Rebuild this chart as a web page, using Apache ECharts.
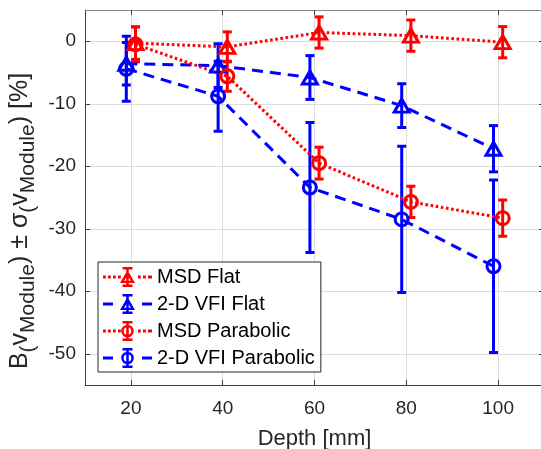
<!DOCTYPE html>
<html>
<head>
<meta charset="utf-8">
<script src="https://cdn.jsdelivr.net/npm/echarts@6/dist/echarts.min.js"></script>
<style>
html,body{margin:0;padding:0;background:#fff;}
#chart{width:541px;height:449px;}
</style>
</head>
<body>
<div id="chart"></div>
<script>
// ---- data ----
var xMSD = [21, 41, 61, 81, 101];
var xVFI = [19, 39, 59, 79, 99];
var msdFlat = [-0.3, -0.9, 1.4, 0.9, -0.15];
var msdFlatErr = [2.6, 2.4, 2.5, 2.5, 2.5];
var vfiFlat = [-3.6, -3.9, -5.8, -10.3, -17.2];
var vfiFlatErr = [3.4, 3.5, 3.5, 3.5, 3.7];
var msdPara = [-0.5, -5.6, -19.5, -25.7, -28.3];
var msdParaErr = [2.8, 2.4, 2.55, 2.5, 2.9];
var vfiPara = [-4.4, -8.8, -23.4, -28.5, -36.0];
var vfiParaErr = [5.2, 5.6, 10.4, 11.7, 13.8];
var xTicks = [20, 40, 60, 80, 100];
var yTicks = [-50, -40, -30, -20, -10, 0];
var seriesNames = ['MSD Flat', '2-D VFI Flat', 'MSD Parabolic', '2-D VFI Parabolic'];

var RED = '#ff0000', BLUE = '#0000ff';
var FONT = '"Liberation Sans", Arial, Helvetica, sans-serif';

function pts(xs, ys) { return xs.map(function (x, i) { return [x, ys[i]]; }); }
function errPts(xs, ys, es) { return xs.map(function (x, i) { return [x, ys[i], es[i]]; }); }

function errSeries(xs, ys, es, color) {
  return {
    type: 'custom',
    name: 'err',
    data: errPts(xs, ys, es),
    silent: true,
    clip: false,
    renderItem: function (params, api) {
      var x = api.value(0), y = api.value(1), e = api.value(2);
      var top = api.coord([x, y + e]);
      var bot = api.coord([x, y - e]);
      var h = 4.5;
      var st = { stroke: color, lineWidth: 3, fill: null };
      return {
        type: 'group',
        children: [
          { type: 'line', shape: { x1: top[0], y1: top[1], x2: bot[0], y2: bot[1] }, style: st },
          { type: 'line', shape: { x1: top[0] - h, y1: top[1], x2: top[0] + h, y2: top[1] }, style: st },
          { type: 'line', shape: { x1: bot[0] - h, y1: bot[1], x2: bot[0] + h, y2: bot[1] }, style: st }
        ]
      };
    }
  };
}

function lineSeries(name, xs, ys, color, symbol, size, dash) {
  return {
    type: 'line',
    name: name,
    data: pts(xs, ys),
    symbol: symbol,
    symbolSize: size,
    showAllSymbol: true,
    clip: false,
    lineStyle: { color: color, width: 3, type: dash },
    itemStyle: { color: 'rgba(255,255,255,0)', borderColor: color, borderWidth: 3 },
    emphasis: { disabled: true }
  };
}

// legend icon (line + error bar + hollow marker) as a filled path, 49 x 20
function r(x, y, w, h) {
  return 'M' + x + ' ' + y + 'L' + (x + w) + ' ' + y + 'L' + (x + w) + ' ' + (y + h) + 'L' + x + ' ' + (y + h) + 'Z';
}
function legendIcon(marker, dotted) {
  var W = 49, H = 20, cx = 24.5, cy = 10, p = '';
  if (dotted) {
    for (var x = 0; x <= 46; x += 5) {
      if (Math.abs(x + 1.4 - cx) < 8) continue;
      p += r(x, cy - 1.4, 2.8, 2.8);
    }
    p += r(46.2, cy - 1.4, 2.8, 2.8);
  } else {
    p += r(0, cy - 1.5, 10, 3) + r(39, cy - 1.5, 10, 3);
  }
  p += r(cx - 1.25, 0, 2.5, H) + r(cx - 5, 0, 10, 2.5) + r(cx - 5, H - 2.5, 10, 2.5);
  if (marker === 'triangle') {
    var t = cy - 7, b = cy + 6, hw = 7.5;
    p += 'M' + cx + ' ' + t + 'L' + (cx + hw) + ' ' + b + 'L' + (cx - hw) + ' ' + b + 'Z';
    var ti = t + 5, bi = b - 2.3, hwi = hw - 4.2;
    p += 'M' + cx + ' ' + ti + 'L' + (cx - hwi) + ' ' + bi + 'L' + (cx + hwi) + ' ' + bi + 'Z';
  } else {
    var ro = 6.3, ri = 3.8;
    p += 'M' + (cx + ro) + ' ' + cy + 'A' + ro + ' ' + ro + ' 0 1 1 ' + (cx - ro) + ' ' + cy +
         'A' + ro + ' ' + ro + ' 0 1 1 ' + (cx + ro) + ' ' + cy + 'Z';
    p += 'M' + (cx + ri) + ' ' + cy + 'A' + ri + ' ' + ri + ' 0 1 0 ' + (cx - ri) + ' ' + cy +
         'A' + ri + ' ' + ri + ' 0 1 0 ' + (cx + ri) + ' ' + cy + 'Z';
  }
  return 'path://' + p;
}

var DOT = [2.6, 2.6];
var DASH = [11, 7];

var chart = echarts.init(document.getElementById('chart'), null, { renderer: 'canvas' });

var axisColor = '#404040';
var legendStyle = [
  { marker: 'triangle', dotted: true, color: RED },
  { marker: 'triangle', dotted: false, color: BLUE },
  { marker: 'circle', dotted: true, color: RED },
  { marker: 'circle', dotted: false, color: BLUE }
];
var option = {
  animation: false,
  backgroundColor: '#fff',
  textStyle: { fontFamily: FONT },
  grid: { left: 85, top: 10, width: 459, height: 375, containLabel: false, outerBoundsMode: 'none' },
  xAxis: [{
    type: 'value', min: 10, max: 110, position: 'bottom',
    axisLine: { show: true, onZero: false, lineStyle: { color: axisColor, width: 1 } },
    axisTick: { show: true, inside: true, length: 5, customValues: xTicks, lineStyle: { color: axisColor } },
    axisLabel: { customValues: xTicks, color: '#262626', fontSize: 19, fontFamily: FONT, margin: 14 },
    splitLine: { show: true, lineStyle: { color: '#dcdcdc', width: 1 } },
    name: 'Depth [mm]', nameLocation: 'middle', nameGap: 43,
    nameTextStyle: { color: '#262626', fontSize: 22, fontFamily: FONT }
  }, {
    type: 'value', min: 10, max: 110, position: 'top',
    axisLine: { show: true, onZero: false, lineStyle: { color: '#8a8a8a', width: 1 } },
    axisTick: { show: true, inside: true, length: 5, customValues: xTicks, lineStyle: { color: axisColor } },
    axisLabel: { show: false },
    splitLine: { show: false }
  }],
  yAxis: [{
    type: 'value', min: -55, max: 5, position: 'left',
    axisLine: { show: true, onZero: false, lineStyle: { color: axisColor, width: 1 } },
    axisTick: { show: true, inside: true, length: 5, customValues: yTicks, lineStyle: { color: axisColor } },
    axisLabel: { customValues: yTicks, color: '#262626', fontSize: 19, fontFamily: FONT, margin: 9 },
    splitLine: { show: true, lineStyle: { color: '#dcdcdc', width: 1 } }
  }, {
    type: 'value', min: -55, max: 5, position: 'right',
    axisLine: { show: true, onZero: false, lineStyle: { color: axisColor, width: 1 } },
    axisTick: { show: true, inside: true, length: 5, customValues: yTicks, lineStyle: { color: axisColor } },
    axisLabel: { show: false },
    splitLine: { show: false }
  }],
  legend: {
    data: seriesNames.map(function (n, i) {
      var s = legendStyle[i];
      return {
        name: n,
        icon: legendIcon(s.marker, s.dotted),
        itemStyle: { color: s.color, borderWidth: 0, borderColor: s.color, opacity: 1 }
      };
    }),
    orient: 'vertical',
    left: 98, top: 262,
    padding: [5, 6, 4, 5],
    itemGap: 7,
    itemWidth: 49,
    itemHeight: 20,
    itemTextGap: 5,
    symbolKeepAspect: false,
    backgroundColor: '#fff',
    borderColor: '#262626',
    borderWidth: 1,
    borderRadius: 0,
    textStyle: { fontSize: 20, color: '#000', fontFamily: FONT },
    selectedMode: false
  },
  graphic: [{
    type: 'text',
    x: 23, y: 221,
    rotation: Math.PI / 2,
    style: {
      text: '{n|B}{s|(}{n|v}{s|Module}{n|)}{n| ± σ}{s|(}{n|v}{s|Module}{n|)}{n| [%]}',
      align: 'center',
      verticalAlign: 'middle',
      fill: '#262626',
      rich: {
        n: { fontSize: 25, fontFamily: FONT, fill: '#262626', padding: [0, 0, 6, 0], verticalAlign: 'top' },
        s: { fontSize: 21, fontFamily: FONT, fill: '#262626', verticalAlign: 'bottom' }
      }
    }
  }],
  series: [
    errSeries(xMSD, msdFlat, msdFlatErr, RED),
    lineSeries(seriesNames[0], xMSD, msdFlat, RED, 'triangle', [15, 13], DOT),
    errSeries(xVFI, vfiFlat, vfiFlatErr, BLUE),
    lineSeries(seriesNames[1], xVFI, vfiFlat, BLUE, 'triangle', [15, 13], DASH),
    errSeries(xMSD, msdPara, msdParaErr, RED),
    lineSeries(seriesNames[2], xMSD, msdPara, RED, 'circle', 13, DOT),
    errSeries(xVFI, vfiPara, vfiParaErr, BLUE),
    lineSeries(seriesNames[3], xVFI, vfiPara, BLUE, 'circle', 13, DASH)
  ]
};
chart.setOption(option);
</script>
</body>
</html>
